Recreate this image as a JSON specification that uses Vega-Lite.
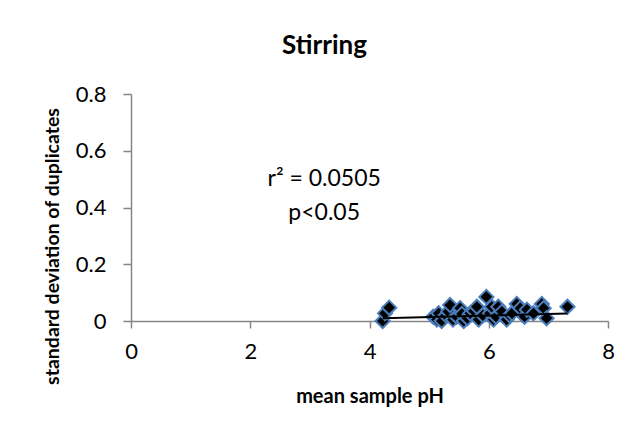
{
  "$schema": "https://vega.github.io/schema/vega-lite/v6.json",
  "width": 477,
  "height": 227,
  "autosize": {"type": "none"},
  "padding": {"left": 131, "top": 94, "right": 30, "bottom": 116},
  "background": "white",
  "config": {
    "view": {"stroke": null},
    "font": "Lato",
    "axis": {"grid": false, "domainColor": "#868686", "tickColor": "#868686", "domainWidth": 1.5, "tickWidth": 1.5, "labelColor": "#000000", "titleColor": "#000000", "labelFont": "Lato", "titleFont": "Lato"}
  },
  "title": {"text": "Stirring", "fontSize": 26, "fontWeight": "bold", "font": "Lato", "color": "#000000", "anchor": "middle", "dx": -45, "offset": 24},
  "datasets": {
    "pts": [
      {"pH": 4.22, "sd": 0.0}, {"pH": 4.26, "sd": 0.027}, {"pH": 4.33, "sd": 0.047},
      {"pH": 5.07, "sd": 0.015}, {"pH": 5.13, "sd": 0.005}, {"pH": 5.16, "sd": 0.027},
      {"pH": 5.21, "sd": 0.0}, {"pH": 5.28, "sd": 0.02}, {"pH": 5.32, "sd": 0.033},
      {"pH": 5.35, "sd": 0.056}, {"pH": 5.4, "sd": 0.005}, {"pH": 5.46, "sd": 0.015},
      {"pH": 5.52, "sd": 0.045}, {"pH": 5.55, "sd": 0.025}, {"pH": 5.58, "sd": 0.0},
      {"pH": 5.64, "sd": 0.01}, {"pH": 5.69, "sd": 0.027}, {"pH": 5.75, "sd": 0.035},
      {"pH": 5.8, "sd": 0.05}, {"pH": 5.83, "sd": 0.005}, {"pH": 5.9, "sd": 0.02},
      {"pH": 5.96, "sd": 0.085}, {"pH": 6.02, "sd": 0.027}, {"pH": 6.05, "sd": 0.05},
      {"pH": 6.08, "sd": 0.005}, {"pH": 6.12, "sd": 0.015}, {"pH": 6.16, "sd": 0.05},
      {"pH": 6.22, "sd": 0.033}, {"pH": 6.3, "sd": 0.005}, {"pH": 6.35, "sd": 0.02},
      {"pH": 6.39, "sd": 0.027}, {"pH": 6.47, "sd": 0.06}, {"pH": 6.53, "sd": 0.045},
      {"pH": 6.6, "sd": 0.015}, {"pH": 6.64, "sd": 0.04}, {"pH": 6.75, "sd": 0.027},
      {"pH": 6.89, "sd": 0.06}, {"pH": 6.92, "sd": 0.045}, {"pH": 6.97, "sd": 0.01},
      {"pH": 7.32, "sd": 0.05}
    ],
    "trend": [{"pH": 4.22, "sd": 0.01}, {"pH": 7.32, "sd": 0.026}],
    "notes": [{"pH": 3.24, "sd": 0.5, "t": "r² = 0.0505"}, {"pH": 3.24, "sd": 0.38, "t": "p<0.05"}]
  },
  "layer": [
    {
      "data": {"name": "pts"},
      "mark": {"type": "point", "shape": "diamond", "filled": true, "fill": "#000000", "stroke": "#4A7EBB", "strokeWidth": 2, "size": 200, "opacity": 1},
      "encoding": {
        "x": {"field": "pH", "type": "quantitative", "scale": {"domain": [0, 8], "nice": false, "zero": false},
          "axis": {"values": [0, 2, 4, 6, 8], "title": "mean sample pH", "titleFontSize": 20, "titleFontWeight": "bold", "titlePadding": 24, "labelFontSize": 22, "labelPadding": 13, "tickSize": 7, "labelFlush": false, "format": "d"}},
        "y": {"field": "sd", "type": "quantitative", "scale": {"domain": [0, 0.8], "nice": false},
          "axis": {"values": [0, 0.2, 0.4, 0.6, 0.8], "title": "standard deviation of duplicates", "titleFontSize": 19.5, "titleFontWeight": "bold", "titleAngle": -90, "titleX": -79, "titleY": 152, "titleAlign": "center", "titleBaseline": "middle", "labelFontSize": 22, "labelPadding": 17, "tickSize": 8, "labelFlush": false, "labelExpr": "datum.value == 0 ? '0' : format(datum.value, '.1f')"}}
      }
    },
    {
      "data": {"name": "trend"},
      "mark": {"type": "line", "color": "#000000", "strokeWidth": 2},
      "encoding": {
        "x": {"field": "pH", "type": "quantitative"},
        "y": {"field": "sd", "type": "quantitative"}
      }
    },
    {
      "data": {"name": "notes"},
      "mark": {"type": "text", "fontSize": 23, "font": "Lato", "color": "#000000", "align": "center", "baseline": "middle"},
      "encoding": {
        "x": {"field": "pH", "type": "quantitative"},
        "y": {"field": "sd", "type": "quantitative"},
        "text": {"field": "t"}
      }
    }
  ]
}
